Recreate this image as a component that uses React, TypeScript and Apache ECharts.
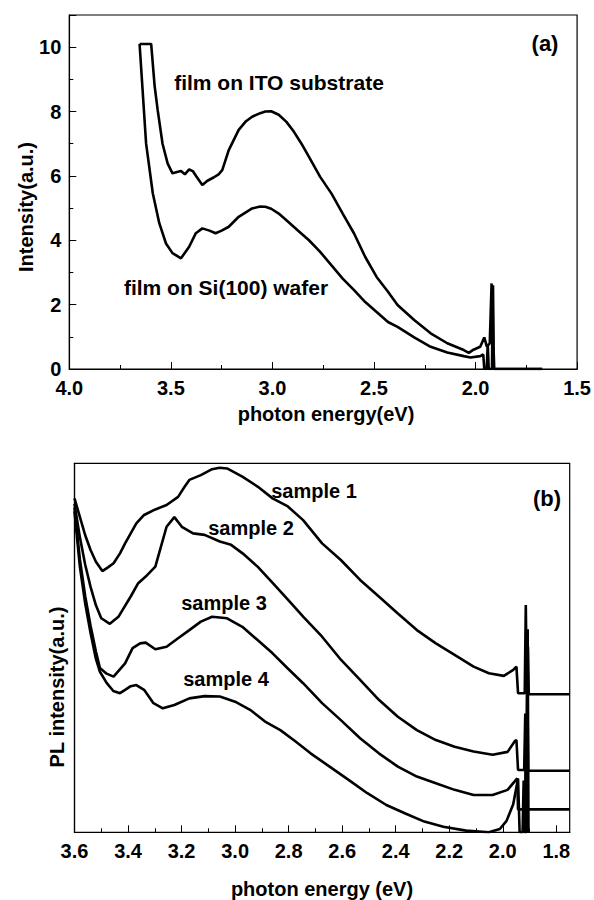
import React, { useEffect, useRef } from "react";
import * as echarts from "echarts";

// ---------- Panel (a) data: [photon energy (eV), intensity (a.u.)] ----------
const itoSubstrate: [number, number][] = [
  [3.654, 10.1], [3.597, 10.1], [3.58, 8.8], [3.565, 8.05], [3.541, 7.0], [3.516, 6.39],
  [3.492, 6.08], [3.469, 6.12], [3.45, 6.15], [3.431, 6.05], [3.41, 6.2], [3.392, 6.15],
  [3.376, 6.0], [3.345, 5.72], [3.32, 5.85], [3.29, 5.95], [3.265, 6.05], [3.247, 6.18],
  [3.215, 6.8], [3.166, 7.43], [3.13, 7.7], [3.1, 7.84], [3.06, 7.95], [3.035, 8.0],
  [3.006, 8.01], [2.969, 7.9], [2.931, 7.68], [2.894, 7.37], [2.857, 7.0], [2.82, 6.59],
  [2.765, 5.97], [2.709, 5.45], [2.654, 4.83], [2.598, 4.21], [2.543, 3.48], [2.487, 2.86],
  [2.431, 2.4], [2.384, 1.99], [2.302, 1.52], [2.221, 1.11], [2.139, 0.8], [2.058, 0.59],
  [2.033, 0.5], [2.01, 0.6], [1.977, 0.69], [1.957, 0.98], [1.944, 0.69], [1.93, 0.8],
  [1.921, 2.66], [1.917, 0.4], [1.914, 2.6], [1.911, 0.6], [1.908, 0], [1.672, 0],
];
const siWafer: [number, number][] = [
  [3.654, 10.1], [3.622, 7.01], [3.589, 5.46], [3.557, 4.53], [3.524, 3.9], [3.492, 3.6],
  [3.45, 3.44], [3.41, 3.8], [3.377, 4.22], [3.345, 4.37], [3.31, 4.3], [3.28, 4.22],
  [3.25, 4.3], [3.215, 4.42], [3.166, 4.73], [3.1, 4.99], [3.06, 5.05], [3.035, 5.04],
  [3.006, 4.98], [2.969, 4.83], [2.931, 4.62], [2.876, 4.31], [2.82, 4.0], [2.765, 3.64],
  [2.709, 3.22], [2.654, 2.81], [2.598, 2.45], [2.543, 2.08], [2.487, 1.77], [2.431, 1.46],
  [2.384, 1.31], [2.302, 0.98], [2.221, 0.69], [2.139, 0.51], [2.058, 0.4], [2.025, 0.36],
  [1.977, 0.4], [1.962, 0.45], [1.957, 0], [1.945, 0], [1.94, 0.77], [1.935, 0],
  [1.919, 0], [1.916, 2.2], [1.912, 0], [1.672, 0],
];

// ---------- Panel (b) data: [photon energy (eV), PL intensity (arb. 0-100)] ----------
const sample1: [number, number][] = [
  [3.6, 90.5], [3.58, 85.5], [3.56, 80.5], [3.54, 76.5], [3.52, 73.3], [3.496, 70.8],
  [3.475, 71.8], [3.454, 72.9], [3.43, 75.6], [3.411, 78.3], [3.39, 81.0], [3.369, 83.7],
  [3.34, 86.0], [3.298, 87.5], [3.256, 88.7], [3.213, 90.9], [3.19, 93.5], [3.171, 95.5],
  [3.128, 96.8], [3.086, 98.4], [3.058, 98.8], [3.03, 98.6], [2.973, 96.4], [2.916, 93.7],
  [2.86, 90.5], [2.803, 88.3], [2.746, 84.6], [2.675, 78.3], [2.605, 73.8], [2.533, 68.4],
  [2.463, 63.9], [2.392, 59.3], [2.321, 54.8], [2.25, 51.2], [2.18, 48.1], [2.109, 44.9],
  [2.052, 43.1], [1.996, 42.4], [1.961, 44.0], [1.949, 44.9], [1.943, 37.7], [1.918, 37.7],
  [1.914, 61.6], [1.91, 37.4], [1.906, 50.3], [1.903, 37.4], [1.75, 37.4],
];
const sample2: [number, number][] = [
  [3.6, 89.0], [3.58, 80.0], [3.56, 72.5], [3.54, 66.5], [3.52, 61.5], [3.5, 58.0],
  [3.468, 56.5], [3.436, 58.4], [3.39, 63.9], [3.362, 67.5], [3.334, 69.3], [3.298, 72.0],
  [3.277, 77.4], [3.256, 82.8], [3.227, 85.4], [3.199, 82.8], [3.157, 81.0], [3.114, 80.6],
  [3.057, 78.8], [3.015, 77.9], [2.972, 75.6], [2.916, 72.0], [2.859, 67.5], [2.802, 63.0],
  [2.745, 58.4], [2.675, 53.0], [2.604, 46.7], [2.533, 41.3], [2.463, 35.9], [2.392, 31.3],
  [2.321, 27.7], [2.25, 25.0], [2.18, 23.2], [2.109, 21.9], [2.038, 21.0], [1.982, 21.8],
  [1.954, 24.8], [1.949, 25.0], [1.943, 16.9], [1.92, 16.9], [1.916, 32.2], [1.913, 0],
  [1.909, 45.0], [1.905, 16.7], [1.75, 16.7],
];
const sample3: [number, number][] = [
  [3.6, 88.0], [3.58, 74.0], [3.56, 64.0], [3.54, 56.0], [3.52, 49.0], [3.505, 44.5],
  [3.48, 43.0], [3.454, 42.2], [3.411, 45.8], [3.383, 49.9], [3.355, 51.2], [3.334, 51.4],
  [3.298, 49.6], [3.256, 50.3], [3.213, 52.6], [3.171, 54.8], [3.128, 57.1], [3.086, 58.4],
  [3.03, 58.0], [2.973, 55.7], [2.916, 52.1], [2.86, 48.5], [2.803, 44.4], [2.746, 40.4],
  [2.675, 35.0], [2.605, 30.4], [2.533, 25.5], [2.463, 21.4], [2.392, 17.8], [2.321, 15.1],
  [2.25, 13.3], [2.18, 11.5], [2.109, 10.1], [2.038, 10.1], [1.982, 11.5], [1.946, 14.6],
  [1.943, 6.2], [1.922, 6.2], [1.918, 0], [1.914, 20.0], [1.91, 6.2], [1.75, 6.2],
];
const sample4: [number, number][] = [
  [3.6, 87.0], [3.58, 72.0], [3.56, 62.0], [3.54, 54.0], [3.52, 47.0], [3.505, 43.5],
  [3.48, 40.5], [3.455, 38.3], [3.43, 37.7], [3.411, 38.6], [3.39, 39.6], [3.369, 39.9],
  [3.34, 38.6], [3.305, 35.0], [3.27, 33.6], [3.227, 34.5], [3.171, 36.3], [3.114, 36.9],
  [3.057, 36.8], [3.0, 35.4], [2.944, 33.2], [2.888, 30.0], [2.831, 27.7], [2.774, 24.6],
  [2.718, 21.4], [2.647, 17.8], [2.576, 14.2], [2.506, 10.6], [2.435, 7.4], [2.364, 5.1],
  [2.293, 2.9], [2.222, 1.5], [2.137, 0.45], [2.052, 0.0], [2.011, 0.9], [1.986, 3.1],
  [1.961, 7.6], [1.943, 14.6], [1.937, 0], [1.926, 0], [1.922, 14.0], [1.918, 0],
  [1.912, 0], [1.907, 55.0], [1.904, 0],
];

// ---------- Tick values ----------
const ticksAX = [1.5, 2.0, 2.5, 3.0, 3.5, 4.0];
const ticksAY = [0, 2, 4, 6, 8, 10];
const ticksBX = [1.8, 2.0, 2.2, 2.4, 2.6, 2.8, 3.0, 3.2, 3.4, 3.6];
const minorTicksBX = [1.9, 2.1, 2.3, 2.5, 2.7, 2.9, 3.1, 3.3, 3.5];

const FONT = '"Liberation Sans", Arial, Helvetica, sans-serif';

function txt(text: string, x: number, y: number, size: number, rotate = 0) {
  return {
    type: "text",
    x,
    y,
    rotation: rotate,
    silent: true,
    style: {
      text,
      fill: "#000",
      font: `bold ${size}px ${FONT}`,
      align: "center",
      verticalAlign: "middle",
      textAlign: "center",
      textVerticalAlign: "middle",
    },
  };
}

export default function App() {
  const ref = useRef<HTMLDivElement>(null);

  useEffect(() => {
    if (!ref.current) return;
    const chart = echarts.init(ref.current, null, { renderer: "svg" });

    const lineSeries = (data: [number, number][], xi: number, yi: number, name: string) => ({
      type: "line",
      name,
      data,
      xAxisIndex: xi,
      yAxisIndex: yi,
      showSymbol: false,
      symbol: "none",
      clip: true,
      lineStyle: { color: "#000", width: 2.6 },
      emphasis: { disabled: true },
    });

    const labelStyle = {
      color: "#000",
      fontSize: 20,
      fontWeight: "bold",
      fontFamily: FONT,
    };

    chart.setOption({
      animation: false,
      backgroundColor: "#fff",
      grid: [
        { left: 69.3, top: 15, width: 511.4, height: 354, show: true, borderColor: "#000", borderWidth: 1.2, containLabel: false },
        { left: 74.5, top: 463.3, width: 495.2, height: 369, show: true, borderColor: "#000", borderWidth: 1.2, containLabel: false },
      ],
      xAxis: [
        {
          gridIndex: 0, type: "value", min: 1.5, max: 4.0, interval: 0.5, inverse: true,
          axisLine: { show: true, lineStyle: { color: "#000", width: 1.2 } },
          axisTick: { show: true, inside: true, length: 7, lineStyle: { color: "#000", width: 1 } },
          minorTick: { show: true, splitNumber: 2, length: 4, lineStyle: { color: "#000", width: 1 } },
          splitLine: { show: false },
          axisLabel: {
            ...labelStyle, margin: 9,
            formatter: (v: number) => (ticksAX.some((t) => Math.abs(t - v) < 1e-6) ? v.toFixed(1) : ""),
          },
        },
        {
          gridIndex: 1, type: "value", min: 1.75, max: 3.6, inverse: true,
          axisLine: { show: true, lineStyle: { color: "#000", width: 1.2 } },
          axisTick: { show: true, inside: true, length: 7, customValues: ticksBX, lineStyle: { color: "#000", width: 1 } },
          splitLine: { show: false },
          axisLabel: {
            ...labelStyle, margin: 9, customValues: ticksBX,
            formatter: (v: number) => v.toFixed(1),
          },
        },
        {
          gridIndex: 1, type: "value", min: 1.75, max: 3.6, inverse: true, position: "bottom",
          axisLine: { show: false },
          axisTick: { show: true, inside: true, length: 4, customValues: minorTicksBX, lineStyle: { color: "#000", width: 1 } },
          splitLine: { show: false },
          axisLabel: { show: false },
        },
      ],
      yAxis: [
        {
          gridIndex: 0, type: "value", min: 0, max: 11, interval: 2,
          axisLine: { show: true, lineStyle: { color: "#000", width: 1.2 } },
          axisTick: { show: true, inside: true, length: 7, lineStyle: { color: "#000", width: 1 } },
          minorTick: { show: true, splitNumber: 2, length: 4, lineStyle: { color: "#000", width: 1 } },
          splitLine: { show: false },
          axisLabel: {
            ...labelStyle, margin: 8,
            formatter: (v: number) => (ticksAY.includes(v) ? String(v) : ""),
          },
        },
        {
          gridIndex: 1, type: "value", min: 0, max: 100,
          axisLine: { show: true, lineStyle: { color: "#000", width: 1.2 } },
          axisTick: { show: false },
          splitLine: { show: false },
          axisLabel: { show: false },
        },
      ],
      series: [
        lineSeries(itoSubstrate, 0, 0, "film on ITO substrate"),
        lineSeries(siWafer, 0, 0, "film on Si(100) wafer"),
        lineSeries(sample1, 1, 1, "sample 1"),
        lineSeries(sample2, 1, 1, "sample 2"),
        lineSeries(sample3, 1, 1, "sample 3"),
        lineSeries(sample4, 1, 1, "sample 4"),
      ],
      graphic: [
        txt("(a)", 545, 43, 22),
        txt("film on ITO substrate", 279, 82, 21),
        txt("film on Si(100) wafer", 226, 287, 21),
        txt("Intensity(a.u.)", 25.5, 207, 20, Math.PI / 2),
        txt("photon energy(eV)", 326, 414, 20),
        txt("(b)", 547, 498, 22),
        txt("sample 1", 314, 491, 20),
        txt("sample 2", 251, 528, 20),
        txt("sample 3", 224, 603, 20),
        txt("sample 4", 226, 679, 20),
        txt("PL intensity(a.u.)", 57, 687, 20, Math.PI / 2),
        txt("photon energy (eV)", 322, 889, 20),
      ],
    });

    return () => chart.dispose();
  }, []);

  return (
    <div
      ref={ref}
      style={{ position: "fixed", left: 0, top: 0, width: 594, height: 900, background: "#fff" }}
    />
  );
}
